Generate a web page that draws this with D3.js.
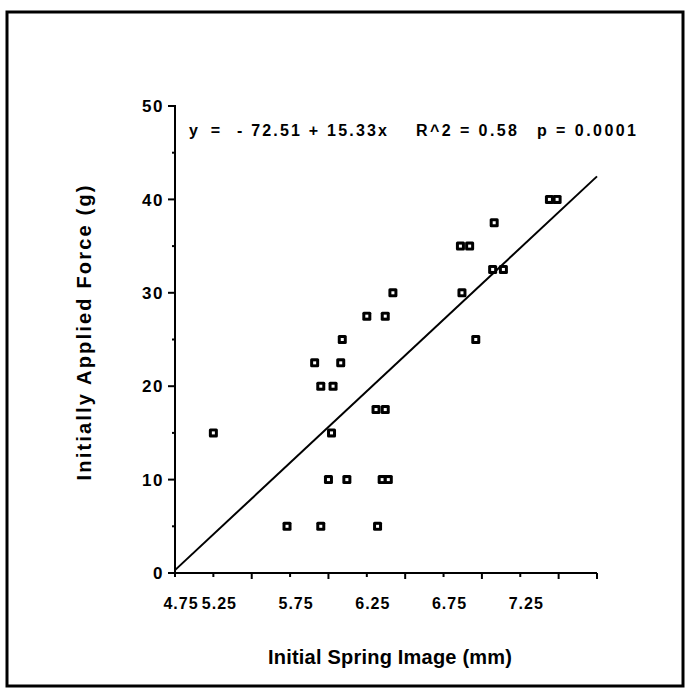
<!DOCTYPE html>
<html>
<head>
  <title>Spring image vs force</title>
  <script src="https://d3js.org/d3.v7.min.js"></script>
  <style>
    body { margin: 0; background: #fff; }
    text { font-family: "Liberation Sans", Arial, Helvetica, sans-serif; font-weight: bold; fill: #000; }
  </style>
</head>
<body>
  <script>
    // initial spring image (mm) and initially applied force (g)
    const springImage = [5.00, 5.48, 5.70, 6.07, 5.66, 5.83, 5.70, 5.78, 5.84, 5.77,
                         5.75, 5.87, 6.10, 6.14, 6.06, 6.12, 6.00, 6.12, 6.17, 6.62,
                         6.61, 6.67, 6.71, 6.82, 6.89, 6.83, 7.19, 7.24];
    const appliedForce = [15, 5, 5, 5, 22.5, 22.5, 20, 20, 25, 15,
                          10, 10, 10, 10, 17.5, 17.5, 27.5, 27.5, 30, 30,
                          35, 35, 25, 32.5, 32.5, 37.5, 40, 40];

    // fitted line from the chart
    const intercept = -72.51;
    const slope = 15.33;
    const fitRange = [4.75, 7.5];

    const yTicks = [0, 10, 20, 30, 40, 50];
    const yMinorTicks = [5, 15, 25, 35, 45];
    const xTicks = [4.75, 5.0, 5.25, 5.5, 5.75, 6.0, 6.25, 6.5, 6.75, 7.0, 7.25, 7.5];
    const xLongTicks = [5.25, 5.75, 6.25, 6.75, 7.25, 7.5];
    // the labels sit at these positions in the original
    const xLabelAt = [4.75, 5.0, 5.5, 6.0, 6.5, 7.0];
    const xLabels = ["4.75", "5.25", "5.75", "6.25", "6.75", "7.25"];

    const statParts = [
      { text: "y =", x0: 189, x1: 220 },
      { text: "- 72.51 + 15.33x", x0: 237, x1: 387 },
      { text: "R^2 = 0.58", x0: 416, x1: 517 },
      { text: "p = 0.0001", x0: 537, x1: 636 }
    ];

    const width = 688, height = 693;

    const svg = d3.select("body").append("svg")
      .attr("width", width)
      .attr("height", height);

    // outer frame
    svg.append("rect")
      .attr("x", 7).attr("y", 12)
      .attr("width", 676).attr("height", 674)
      .attr("fill", "none")
      .attr("stroke", "#000")
      .attr("stroke-width", 3);

    let x = d3.scaleLinear().domain([4.75, 7.5]).range([175, 597]);
    let y = d3.scaleLinear().domain([0, 50]).range([573, 106]);

    // y axis
    let yAxis = svg.append("g");
    yAxis.append("line")
      .attr("x1", x(4.75)).attr("x2", x(4.75))
      .attr("y1", y(50) - 1).attr("y2", y(0))
      .attr("stroke", "#000").attr("stroke-width", 2);
    yAxis.selectAll(".ymaj").data(yTicks).enter().append("line")
      .attr("x1", x(4.75) - 7).attr("x2", x(4.75))
      .attr("y1", d => y(d)).attr("y2", d => y(d))
      .attr("stroke", "#000").attr("stroke-width", 2);
    yAxis.selectAll(".ymin").data(yMinorTicks).enter().append("line")
      .attr("x1", x(4.75) - 3).attr("x2", x(4.75))
      .attr("y1", d => y(d)).attr("y2", d => y(d))
      .attr("stroke", "#000").attr("stroke-width", 2);
    yAxis.selectAll("text").data(yTicks).enter().append("text")
      .attr("x", 164)
      .attr("y", d => y(d))
      .attr("dy", "0.36em")
      .attr("text-anchor", "end")
      .style("font-size", "17px")
      .style("letter-spacing", "1.5px")
      .text(d => d);

    // x axis
    let xAxis = svg.append("g");
    xAxis.append("line")
      .attr("x1", x(4.75)).attr("x2", x(7.5))
      .attr("y1", y(0)).attr("y2", y(0))
      .attr("stroke", "#000").attr("stroke-width", 2);
    xAxis.selectAll(".xt").data(xTicks).enter().append("line")
      .attr("x1", d => x(d)).attr("x2", d => x(d))
      .attr("y1", y(0))
      .attr("y2", d => y(0) + (xLongTicks.includes(d) ? 6 : 4))
      .attr("stroke", "#000").attr("stroke-width", 2);
    xAxis.selectAll("text").data(xLabels).enter().append("text")
      .attr("x", (d, i) => x(xLabelAt[i]) + 6)
      .attr("y", 609)
      .attr("text-anchor", "middle")
      .style("font-size", "16px")
      .style("letter-spacing", "1px")
      .text(d => d);

    // fitted line
    let fitLine = d3.line()
      .x(d => x(d))
      .y(d => y(intercept + slope * d));
    svg.append("path")
      .datum(fitRange)
      .attr("d", fitLine)
      .attr("fill", "none")
      .attr("stroke", "#000")
      .attr("stroke-width", 2);

    // points: black square with a small white centre
    const points = springImage.map((v, i) => ({ sx: v, f: appliedForce[i] }));
    let marks = svg.selectAll(".pt").data(points).enter().append("g")
      .attr("transform", d => "translate(" + x(d.sx) + "," + y(d.f) + ")");
    marks.append("rect")
      .attr("x", -4.5).attr("y", -4.5)
      .attr("width", 9).attr("height", 9)
      .attr("rx", 1.5)
      .attr("fill", "#000");
    marks.append("rect")
      .attr("x", -1.5).attr("y", -1.5)
      .attr("width", 3).attr("height", 3)
      .attr("fill", "#fff");

    // regression statistics
    svg.selectAll(".stat").data(statParts).enter().append("text")
      .attr("x", d => d.x0)
      .attr("y", 136)
      .attr("textLength", d => d.x1 - d.x0)
      .attr("lengthAdjust", "spacing")
      .style("font-size", "16px")
      .text(d => d.text);

    // axis titles
    svg.append("text")
      .attr("transform", "translate(91,333) rotate(-90)")
      .attr("text-anchor", "middle")
      .attr("textLength", 295)
      .attr("lengthAdjust", "spacing")
      .style("font-size", "20px")
      .text("Initially Applied Force (g)");

    svg.append("text")
      .attr("x", 390)
      .attr("y", 664)
      .attr("text-anchor", "middle")
      .attr("textLength", 244)
      .attr("lengthAdjust", "spacing")
      .style("font-size", "20px")
      .text("Initial Spring Image (mm)");
  </script>
</body>
</html>
